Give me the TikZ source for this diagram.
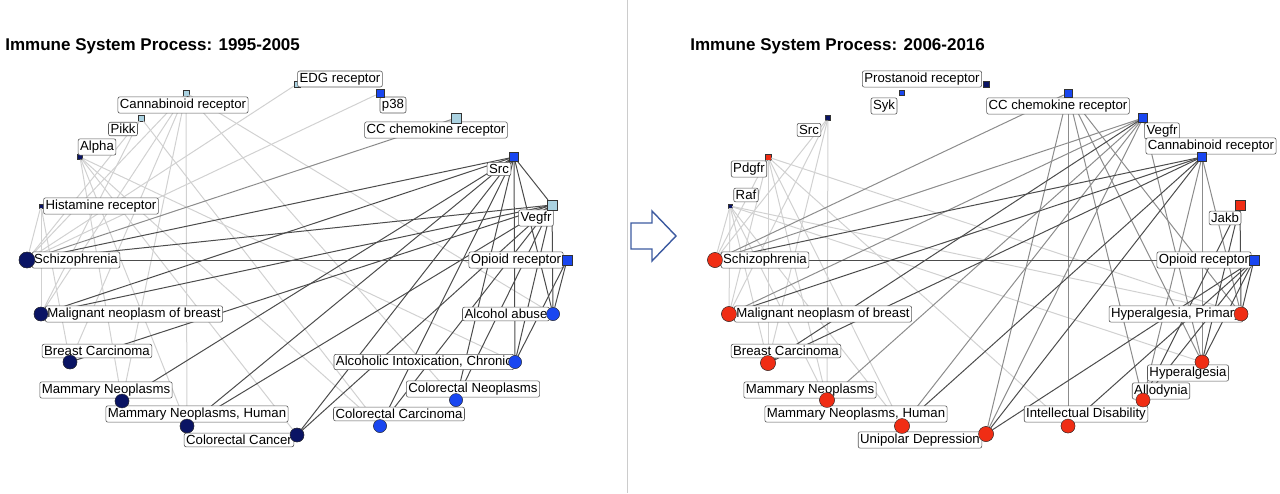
\documentclass[tikz,border=0pt]{standalone}
\usepackage{fontspec}
\setmainfont{Liberation Sans}
\begin{document}
\begin{tikzpicture}[x=0.5pt,y=-0.5pt,
  lab/.style={draw=gray!70!black,fill=white,rounded corners=1pt,inner sep=1pt,line width=0.3pt,font=\fontsize{6.6}{7}\selectfont},
  sq/.style={draw=black!80,line width=0.2pt,inner sep=0pt,minimum size=#1},
  cir/.style={circle,draw=black!80,line width=0.2pt,inner sep=0pt,minimum size=#1},
  dk/.style={draw=black!70,line width=0.5pt},
  md/.style={draw=black!45,line width=0.5pt},
  lt/.style={draw=black!18,line width=0.5pt},
  ttl/.style={font=\bfseries\fontsize{8.5}{10}\selectfont,anchor=west,inner sep=0pt}]
\useasboundingbox (0,0) rectangle (1280,493);
\definecolor{navy}{RGB}{10,20,100}
\definecolor{bblue}{RGB}{25,70,240}
\definecolor{lblue}{RGB}{170,210,225}
\definecolor{rred}{RGB}{240,45,20}
\definecolor{arrc}{RGB}{60,90,160}
\draw[black!20,line width=0.4pt] (627,0) -- (627,493);
\node[ttl] (t1) at (5,46) {Immune System Process: 1995-2005};
\node[ttl] (t2) at (690,46) {Immune System Process: 2006-2016};
\draw[arrc,line width=0.7pt,line join=miter] (631,223) -- (652,223) -- (652,211) -- (676,236) -- (652,261) -- (652,249) -- (631,249) -- cycle;
% ---------- left markers
\node[sq=3pt,fill=lblue] (EDG) at (297,84) {};
\node[sq=4pt,fill=bblue] (P38) at (380,93) {};
\node[sq=3pt,fill=lblue] (CB) at (186,93) {};
\node[sq=3pt,fill=lblue] (PK) at (141,118) {};
\node[sq=5pt,fill=lblue] (CC) at (456,118) {};
\node[sq=2.5pt,fill=navy] (AL) at (80,157) {};
\node[sq=4.5pt,fill=bblue] (SRC) at (514,157) {};
\node[sq=2pt,fill=navy] (HI) at (41,206) {};
\node[sq=5pt,fill=lblue] (VE) at (552,205) {};
\node[sq=5pt,fill=bblue] (OP) at (567,260) {};
\node[cir=8pt,fill=navy] (SZ) at (27,260) {};
\node[cir=7pt,fill=navy] (MN) at (41,314) {};
\node[cir=7pt,fill=navy] (BC) at (70,362) {};
\node[cir=7pt,fill=navy] (MA) at (122,401) {};
\node[cir=7pt,fill=navy] (MH) at (187,426) {};
\node[cir=7pt,fill=navy] (CCa) at (297,435) {};
\node[cir=6.5pt,fill=bblue] (AA) at (553,314) {};
\node[cir=6.5pt,fill=bblue] (AI) at (515,362) {};
\node[cir=6.5pt,fill=bblue] (CN) at (456,400) {};
\node[cir=6.5pt,fill=bblue] (CR) at (380,426) {};
% left edges
\foreach \a/\b in {CB/SZ,CB/MN,CB/BC,CB/MA,CB/MH,CB/CN,CB/AA,PK/SZ,PK/MN,PK/CR,AL/MA,AL/MH,AL/CCa,AL/CR,AL/AI,HI/SZ,HI/MN,HI/BC,P38/SZ,EDG/SZ}
  \draw[lt] (\a) -- (\b);
\foreach \a/\b in {CC/SZ}
  \draw[md] (\a) -- (\b);
\foreach \a/\b in {SRC/SZ,SRC/MN,SRC/MA,SRC/MH,SRC/CCa,SRC/CR,SRC/CN,SRC/AI,SRC/AA,SRC/VE,VE/SZ,VE/MN,VE/BC,VE/MH,VE/CCa,VE/CR,VE/CN,VE/AI,VE/AA,OP/SZ,OP/AA,OP/AI}
  \draw[dk] (\a) -- (\b);
% left labels
\node[lab] (lEDG) at (340,79) {EDG receptor};
\node[lab] (lP38) at (393,105) {p38};
\node[lab] (lCB) at (183,105) {Cannabinoid receptor};
\node[lab] (lPK) at (123,129) {Pikk};
\node[lab] (lCC) at (436,130) {CC chemokine receptor};
\node[lab] (lAL) at (97,147) {Alpha};
\node[lab] (lSRC) at (499,169) {Src};
\node[lab] (lHI) at (101,206) {Histamine receptor};
\node[lab] (lVE) at (536,218) {Vegfr};
\node[lab] (lSZ) at (76,260) {Schizophrenia};
\node[lab] (lOP) at (516,260) {Opioid receptor};
\node[lab] (lMN) at (134,314) {Malignant neoplasm of breast};
\node[lab] (lAA) at (506,314) {Alcohol abuse};
\node[lab] (lBC) at (97,351) {Breast Carcinoma};
\node[lab] (lAI) at (424,362) {Alcoholic Intoxication, Chronic};
\node[lab] (lMA) at (106,390) {Mammary Neoplasms};
\node[lab] (lCN) at (473,389) {Colorectal Neoplasms};
\node[lab] (lMH) at (197,414) {Mammary Neoplasms, Human};
\node[lab] (lCR) at (399,414) {Colorectal Carcinoma};
\node[lab] (lCCa) at (239,440) {Colorectal Cancer};
% ---------- right markers
\node[sq=3pt,fill=navy] (rPR) at (986,84) {};
\node[sq=2.5pt,fill=bblue] (rSY) at (902,93) {};
\node[sq=4pt,fill=bblue] (rCC) at (1068,93) {};
\node[sq=2.5pt,fill=navy] (rSRC) at (828,118) {};
\node[sq=4.5pt,fill=bblue] (rVE) at (1143,118) {};
\node[sq=3pt,fill=rred] (rPD) at (768,157) {};
\node[sq=4.5pt,fill=bblue] (rCB) at (1202,157) {};
\node[sq=2pt,fill=navy] (rRA) at (730,206) {};
\node[sq=5pt,fill=rred] (rJK) at (1240,205) {};
\node[sq=5pt,fill=bblue] (rOP) at (1254,260) {};
\node[cir=7.5pt,fill=rred] (rSZ) at (715,260) {};
\node[cir=7.5pt,fill=rred] (rMN) at (729,314) {};
\node[cir=7.5pt,fill=rred] (rBC) at (768,363) {};
\node[cir=7.5pt,fill=rred] (rMA) at (827,400) {};
\node[cir=7.5pt,fill=rred] (rMH) at (902,426) {};
\node[cir=7.5pt,fill=rred] (rUD) at (986,434) {};
\node[cir=7pt,fill=rred] (rHP) at (1241,314) {};
\node[cir=7pt,fill=rred] (rHY) at (1202,362) {};
\node[cir=7pt,fill=rred] (rAL) at (1143,400) {};
\node[cir=7pt,fill=rred] (rID) at (1068,426) {};
\foreach \a/\b in {rRA/rSZ,rRA/rMN,rRA/rBC,rRA/rMA,rRA/rMH,rRA/rHP,rRA/rHY,rPD/rSZ,rPD/rMN,rPD/rBC,rPD/rMA,rPD/rMH,rPD/rID,rPD/rHP,rSRC/rSZ,rSRC/rMN,rSRC/rBC,rSRC/rMA}
  \draw[lt] (\a) -- (\b);
\foreach \a/\b in {rCC/rSZ,rCC/rUD,rCC/rAL,rCC/rHY,rCC/rHP,rCC/rID,rVE/rSZ,rVE/rMN,rVE/rMA,rVE/rMH,rVE/rUD,rVE/rHY,rCB/rHY,rCB/rHP,rCB/rAL}
  \draw[md] (\a) -- (\b);
\foreach \a/\b in {rVE/rBC,rCB/rSZ,rCB/rMN,rCB/rBC,rCB/rMH,rCB/rUD,rOP/rSZ,rOP/rHP,rOP/rHY,rOP/rAL,rOP/rUD,rOP/rID,rJK/rHP,rJK/rHY,rJK/rAL}
  \draw[dk] (\a) -- (\b);
% right labels
\node[lab] (lrPR) at (922,79) {Prostanoid receptor};
\node[lab] (lrSY) at (884,106) {Syk};
\node[lab] (lrCC) at (1058,106) {CC chemokine receptor};
\node[lab] (lrSRC) at (809,130) {Src};
\node[lab] (lrVE) at (1162,131) {Vegfr};
\node[lab] (lrCB) at (1211,146) {Cannabinoid receptor};
\node[lab] (lrPD) at (749,169) {Pdgfr};
\node[lab] (lrRA) at (746,195) {Raf};
\node[lab] (lrJK) at (1225,218) {Jakb};
\node[lab] (lrSZ) at (765,260) {Schizophrenia};
\node[lab] (lrOP) at (1204,260) {Opioid receptor};
\node[lab] (lrMN) at (823,314) {Malignant neoplasm of breast};
\node[lab] (lrHP) at (1176,314) {Hyperalgesia, Primary};
\node[lab] (lrBC) at (786,351) {Breast Carcinoma};
\node[lab] (lrHY) at (1188,373) {Hyperalgesia};
\node[lab] (lrMA) at (810,390) {Mammary Neoplasms};
\node[lab] (lrAL) at (1161,391) {Allodynia};
\node[lab] (lrMH) at (856,414) {Mammary Neoplasms, Human};
\node[lab] (lrID) at (1086,414) {Intellectual Disability};
\node[lab] (lrUD) at (920,440) {Unipolar Depression};
% markers on top
\foreach \n/\c/\s in {SZ/navy/8pt,MN/navy/7pt,BC/navy/7pt,MA/navy/7pt,MH/navy/7pt,CCa/navy/7pt,AA/bblue/6.5pt,AI/bblue/6.5pt,CN/bblue/6.5pt,CR/bblue/6.5pt,rSZ/rred/7.5pt,rMN/rred/7.5pt,rBC/rred/7.5pt,rMA/rred/7.5pt,rMH/rred/7.5pt,rUD/rred/7.5pt,rHP/rred/7pt,rHY/rred/7pt,rAL/rred/7pt,rID/rred/7pt}
  \node[cir=\s,fill=\c] at (\n) {};
\foreach \n/\c/\s in {SRC/bblue/4.5pt,VE/lblue/5pt,OP/bblue/5pt,CC/lblue/5pt,P38/bblue/4pt,rVE/bblue/4.5pt,rCB/bblue/4.5pt,rOP/bblue/5pt,rJK/rred/5pt,rCC/bblue/4pt}
  \node[sq=\s,fill=\c] at (\n) {};
\end{tikzpicture}
\end{document}
